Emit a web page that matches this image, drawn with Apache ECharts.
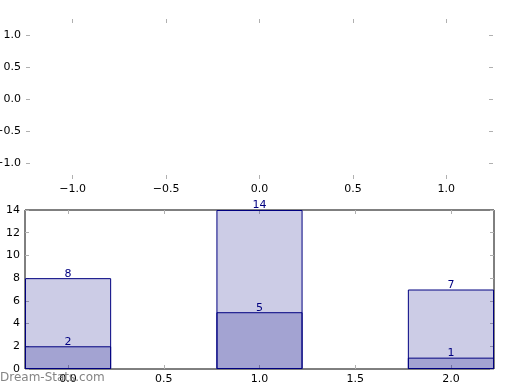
<!DOCTYPE html>
<html><head><meta charset="utf-8">
<script src="https://cdn.jsdelivr.net/npm/echarts@6/dist/echarts.min.js"></script>
<style>html,body{margin:0;padding:0;background:#fff}#c{width:520px;height:390px}</style>
</head><body><div id="c"></div>
<script>
const categories = [0, 1, 2];
const totalValues = [8, 14, 7];
const lowerValues = [2, 5, 1];
const topXTicks = [-1.0, -0.5, 0.0, 0.5, 1.0];
const topYTicks = [-1.0, -0.5, 0.0, 0.5, 1.0];
const barXTicks = [0, 0.5, 1.0, 1.5, 2.0];
const barYTicks = [0, 2, 4, 6, 8, 10, 12, 14];

const chart = echarts.init(document.getElementById('c'));
const FONT = 'DejaVu Sans';
const TICKC = '#b0b0b0';
const fmt = v => { const s = Number(v).toFixed(1); return s.replace('-', '\u2212'); };
const fmtInt = v => String(Math.round(v));

const gridW = 520 - 25 - 26;
const barW = gridW * 0.45 / 2.45;

function axis(opts) {
  const base = {
    axisLine: {show: false, onZero: false},
    splitLine: {show: false},
    axisTick: {show: true, inside: true, length: 4, lineStyle: {color: TICKC, width: 1}, customValues: opts.ticks},
    axisLabel: {show: opts.labels, color: '#000', fontFamily: FONT, fontSize: 11, margin: 5,
      customValues: opts.ticks, formatter: opts.fmt},
  };
  return Object.assign(base, opts.extra);
}

const xAxes = [
  axis({ticks: topXTicks, labels: true, fmt: fmt, extra: {type: 'value', gridIndex: 0, min: -1.25, max: 1.25, position: 'bottom'}}),
  axis({ticks: topXTicks, labels: false, fmt: fmt, extra: {type: 'value', gridIndex: 0, min: -1.25, max: 1.25, position: 'top'}}),
  axis({ticks: barXTicks, labels: true, fmt: fmt, extra: {type: 'value', gridIndex: 1, min: -0.225, max: 2.225, position: 'bottom'}}),
  axis({ticks: barXTicks, labels: false, fmt: fmt, extra: {type: 'value', gridIndex: 1, min: -0.225, max: 2.225, position: 'top'}}),
];
const yAxes = [
  axis({ticks: topYTicks, labels: true, fmt: fmt, extra: {type: 'value', gridIndex: 0, min: -1.25, max: 1.25, position: 'left'}}),
  axis({ticks: topYTicks, labels: false, fmt: fmt, extra: {type: 'value', gridIndex: 0, min: -1.25, max: 1.25, position: 'right'}}),
  axis({ticks: barYTicks, labels: true, fmt: fmtInt, extra: {type: 'value', gridIndex: 1, min: 0, max: 14, position: 'left'}}),
  axis({ticks: barYTicks, labels: false, fmt: fmtInt, extra: {type: 'value', gridIndex: 1, min: 0, max: 14, position: 'right'}}),
];

const barStyle = {color: 'rgba(0,0,128,0.2)', borderColor: '#000080', borderWidth: 1};
const lbl = {show: true, position: 'top', distance: -1, color: '#000080', fontFamily: FONT, fontSize: 11};

chart.setOption({
  animation: false,
  backgroundColor: '#fff',
  grid: [
    {left: 26, right: 27, top: 19, height: 160, show: false, outerBoundsMode: 'none', containLabel: false},
    {left: 25, right: 26, top: 210, height: 159, show: true, borderColor: '#000', borderWidth: 1, backgroundColor: 'transparent', outerBoundsMode: 'none', containLabel: false}
  ],
  xAxis: xAxes,
  yAxis: yAxes,
  series: [
    {type: 'bar', xAxisIndex: 2, yAxisIndex: 2, barWidth: barW, barGap: '-100%',
      data: categories.map((c, i) => [c, totalValues[i]]), itemStyle: barStyle, label: lbl},
    {type: 'bar', xAxisIndex: 2, yAxisIndex: 2, barWidth: barW, barGap: '-100%',
      data: categories.map((c, i) => [c, lowerValues[i]]), itemStyle: barStyle, label: lbl}
  ],
  graphic: [{type: 'text', left: 0, top: 372, z: 100,
    style: {text: 'Dream-Stats.com', fill: 'rgba(110,110,110,0.85)', font: '12px "DejaVu Sans"'}}]
});
</script></body></html>
